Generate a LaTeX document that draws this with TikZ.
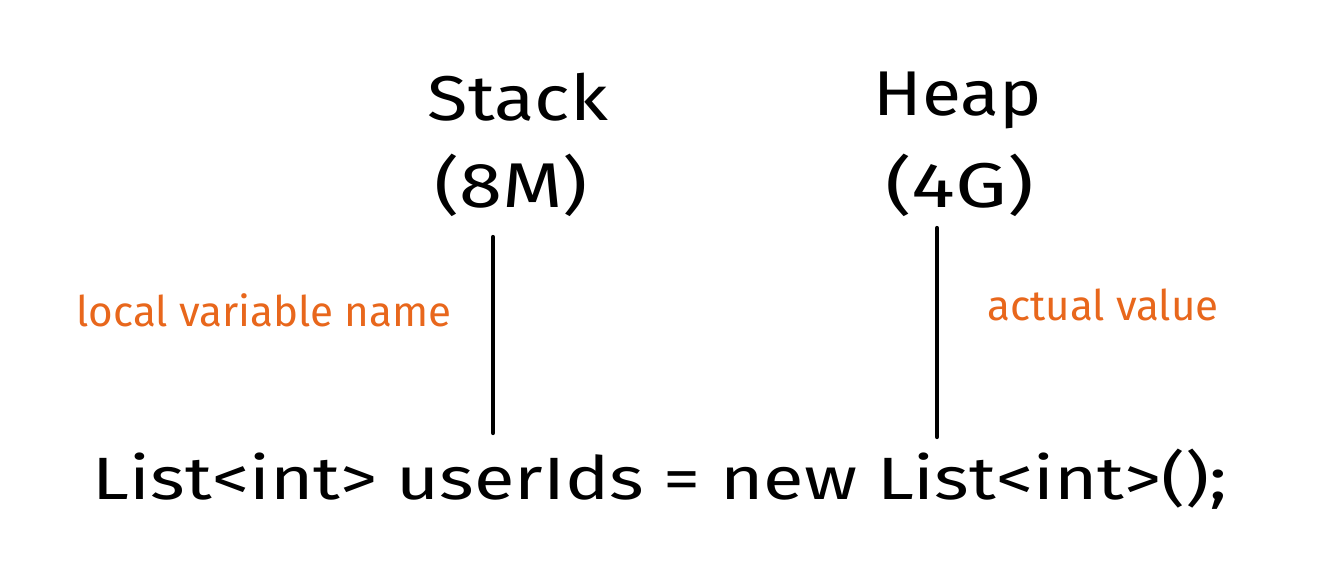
\documentclass[tikz,border=0pt]{standalone}
\usepackage{fontspec}
\setmainfont{Fira Sans}
\definecolor{accent}{HTML}{E8671C}
\newcommand{\wide}[2]{\scalebox{#1}[1]{#2}}
\begin{document}
\begin{tikzpicture}[x=0.02cm,y=-0.02cm,
  title/.style={font=\fontsize{36}{40}\selectfont, inner sep=0pt, align=center},
  note/.style={font=\fontsize{24}{28}\selectfont, text=accent, inner sep=0pt},
  code/.style={font=\fontsize{34}{40}\selectfont, inner sep=0pt},
  pointer/.style={line width=2.4pt, line cap=round}]
\useasboundingbox (0,0) rectangle (1342,584);
\node[title] (stack) at (518,97) {\wide{1.17}{Stack}};
\node[title] (stacksize) at (511,185) {\wide{1.23}{(8M)}};
\node[title] (heap) at (958,100) {\wide{1.13}{Heap}};
\node[title] (heapsize) at (960,185) {\wide{1.3}{(4G)}};
\coordinate (stacktop) at (493,237);
\coordinate (stackbot) at (493,433);
\coordinate (heaptop) at (937,228);
\coordinate (heapbot) at (937,437);
\draw[pointer] (stacktop) -- (stackbot);
\draw[pointer] (heaptop) -- (heapbot);
\node[note] (localname) at (264,310) {local variable name};
\node[note] (actual) at (1103,305) {actual value};
\node[code] (line) at (660,479) {\wide{1.24}{List<int> userIds = new List<int>();}};
\end{tikzpicture}
\end{document}
